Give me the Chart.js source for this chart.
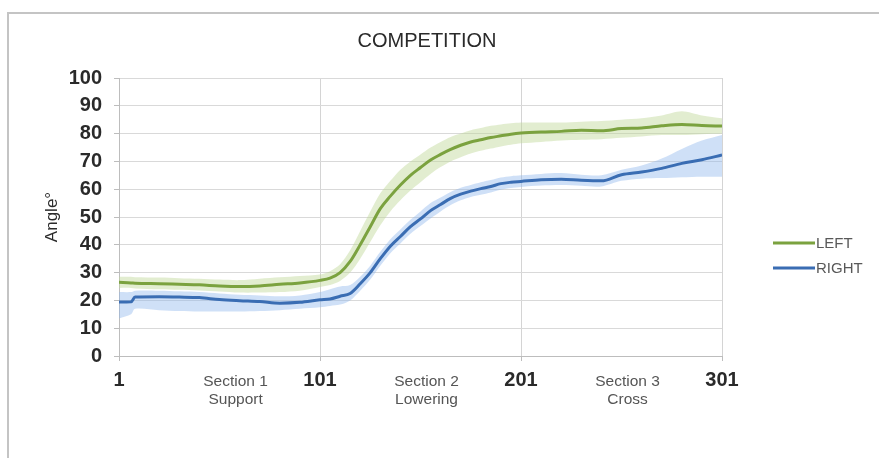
<!DOCTYPE html>
<html>
<head>
<meta charset="utf-8">
<script src="https://cdn.jsdelivr.net/npm/chart.js@4"></script>
<style>
  html, body { margin: 0; padding: 0; background: #fff; }
  #wrap { position: relative; width: 879px; height: 458px; overflow: hidden; }
  #frame { position: absolute; left: 7px; top: 12px; width: 900px; height: 500px;
           border-top: 2px solid #c4c4c4; border-left: 2px solid #c4c4c4; box-sizing: border-box; }
  canvas { position: absolute; left: 0; top: 0; }
</style>
</head>
<body>
<div id="wrap">
  <div id="frame"></div>
  <canvas id="c" width="879" height="458"></canvas>
</div>
<script>
// Sample positions along the movement (frame index 1..301)
const frames = [1, 7, 9, 21, 31, 41, 51, 61, 71, 81, 91, 101, 106, 111, 116, 121, 126, 131, 136, 141,
  146, 151, 156, 161, 166, 171, 176, 181, 186, 191, 196, 201, 211, 221, 231, 241, 251, 261, 271, 281, 291, 301];

// LEFT arm angle: mean and spread
const leftMean = [26.5, 26.3, 26.2, 26, 25.8, 25.6, 25.2, 25, 25.2, 25.8, 26.3, 27.2, 28, 30, 34, 40, 46.5, 53, 57.5, 61.5,
  65, 67.8, 70.5, 72.5, 74.3, 75.8, 77, 77.8, 78.6, 79.2, 79.8, 80.2, 80.6, 80.8, 81.2, 81, 81.8, 82, 82.8, 83.3, 82.9, 82.7];
const leftUpper = [28.5, 28.5, 28.3, 28.2, 28, 27.8, 27.5, 27.3, 27.8, 28.3, 28.8, 29.3, 30.5, 33, 38, 45, 52, 58.5, 63, 67,
  70, 72.5, 75, 77, 78.8, 80, 81.2, 82, 82.8, 83.3, 83.7, 84, 84, 84, 84.3, 84.5, 85, 85.5, 86.5, 88, 86.5, 85.5];
const leftLower = [24.5, 24.5, 24.3, 24, 23.8, 23.6, 23.2, 22.8, 22.8, 23, 23.5, 24.8, 25.5, 27, 30, 35, 41, 47, 52, 56,
  59.5, 62.5, 65.5, 68, 70, 71.5, 72.8, 73.8, 74.6, 75.4, 76, 76.5, 77, 77.5, 77.8, 78, 78.5, 79, 79.5, 79.5, 79.8, 80];

// RIGHT arm angle: mean and spread
const rightMean = [19.4, 19.5, 21.2, 21.3, 21.2, 21, 20.3, 19.9, 19.6, 19, 19.3, 20.2, 20.5, 21.5, 22.5, 26, 30, 35, 39.5, 43,
  46.5, 49.3, 52.3, 54.5, 56.7, 58.2, 59.3, 60.2, 61, 62, 62.5, 62.8, 63.4, 63.6, 63.2, 63, 65.2, 66.2, 67.5, 69.3, 70.6, 72.3];
const rightUpper = [23, 23, 23.5, 23.5, 23.3, 23, 22.5, 22, 21.8, 21.5, 21.8, 23, 24, 25, 25.5, 28.5, 32.5, 37.5, 42, 45.5,
  49, 52, 55, 57, 59, 60.5, 61.5, 62.5, 63.3, 64.2, 64.7, 65, 65.5, 65.8, 65.2, 65, 67, 68.5, 71, 74.5, 77.5, 79.5];
const rightLower = [13.5, 15, 17, 16.5, 16.2, 16, 16, 16, 16.2, 16.5, 17, 17.5, 18, 18.5, 20, 23.5, 27.5, 32.5, 37, 40.5,
  44, 46.8, 49.5, 52, 54.3, 56, 57.2, 58, 58.8, 59.8, 60.4, 60.8, 61.3, 61.5, 61.2, 61, 63, 63.8, 64, 64.3, 64.5, 64.5];

// Axis ticks and section captions
const xTicks = [1, 101, 201, 301];
const yTicks = [0, 10, 20, 30, 40, 50, 60, 70, 80, 90, 100];
const sectionAt = [59, 154, 254];
const sectionNames = [["Section 1", "Support"], ["Section 2", "Lowering"], ["Section 3", "Cross"]];
const seriesNames = ["LEFT", "RIGHT"];
const chartTitle = "COMPETITION";

const GREEN = "#7ba23f";
const BLUE = "#3a6db3";
const FONT = "'Liberation Sans', Arial, sans-serif";

const pts = arr => arr.map((v, i) => ({ x: frames[i], y: v }));

const band = (data, color, fill) => ({
  data: pts(data), borderWidth: 0, pointRadius: 0, backgroundColor: color,
  fill: fill, tension: 0.3, order: 3
});
const line = (label, data, color) => ({
  label, data: pts(data), borderColor: color, borderWidth: 3, pointRadius: 0,
  fill: false, cubicInterpolationMode: "monotone", order: 1
});

// Title, captions under the x axis and the legend at the right
const extras = {
  id: "extras",
  afterDraw(chart) {
    const ctx = chart.ctx;
    const xs = chart.scales.x;
    const area = chart.chartArea;
    ctx.save();
    ctx.textBaseline = "middle";
    ctx.textAlign = "center";

    ctx.fillStyle = "#2a2a2a";
    ctx.font = "20px " + FONT;
    ctx.fillText(chartTitle, 427, 41);

    ctx.fillStyle = "#555";
    ctx.font = "15.5px " + FONT;
    sectionNames.forEach((lines, i) => {
      const px = xs.getPixelForValue(sectionAt[i]);
      ctx.fillText(lines[0], px, area.bottom + 26);
      ctx.fillText(lines[1], px, area.bottom + 44);
    });

    const colors = [GREEN, BLUE];
    ctx.textAlign = "left";
    ctx.font = "15px " + FONT;
    seriesNames.forEach((name, i) => {
      const y = 243 + i * 25;
      ctx.strokeStyle = colors[i];
      ctx.lineWidth = 3;
      ctx.beginPath();
      ctx.moveTo(773, y);
      ctx.lineTo(815, y);
      ctx.stroke();
      ctx.fillStyle = "#595959";
      ctx.fillText(name, 816, y + 1);
    });
    ctx.restore();
  }
};

new Chart(document.getElementById("c"), {
  type: "line",
  data: {
    datasets: [
      band(leftUpper, "rgba(190,216,150,0.45)", "+1"),
      band(leftLower, "rgba(190,216,150,0.45)", false),
      band(rightUpper, "rgba(140,180,235,0.42)", "+1"),
      band(rightLower, "rgba(140,180,235,0.42)", false),
      line(seriesNames[0], leftMean, GREEN),
      line(seriesNames[1], rightMean, BLUE)
    ]
  },
  options: {
    responsive: false,
    animation: false,
    events: [],
    layout: { padding: { left: 42, right: 157, top: 78, bottom: 42 } },
    plugins: {
      legend: { display: false },
      tooltip: { enabled: false },
      title: { display: false }
    },
    scales: {
      x: {
        type: "linear", min: 1, max: 301,
        afterBuildTicks: s => { s.ticks = xTicks.map(v => ({ value: v })); },
        afterFit: s => { s.height = 60; },
        grid: { color: "#d4d4d4", tickLength: 5, tickColor: "#bdbdbd" },
        border: { color: "#bdbdbd" },
        ticks: { color: "#2a2a2a", font: { family: FONT, size: 20, weight: "bold" }, padding: 7, maxRotation: 0 }
      },
      y: {
        min: 0, max: 100,
        afterBuildTicks: s => { s.ticks = yTicks.map(v => ({ value: v })); },
        afterFit: s => { s.width = 77; },
        grid: { color: "#d9d9d9", tickLength: 5, tickColor: "#bdbdbd" },
        border: { color: "#bdbdbd" },
        ticks: { color: "#2a2a2a", font: { family: FONT, size: 20, weight: "bold" }, padding: 12 },
        title: { display: true, text: "Angle°", color: "#2a2a2a", font: { family: FONT, size: 17 }, padding: 0 }
      }
    }
  },
  plugins: [extras]
});
</script>
</body>
</html>
